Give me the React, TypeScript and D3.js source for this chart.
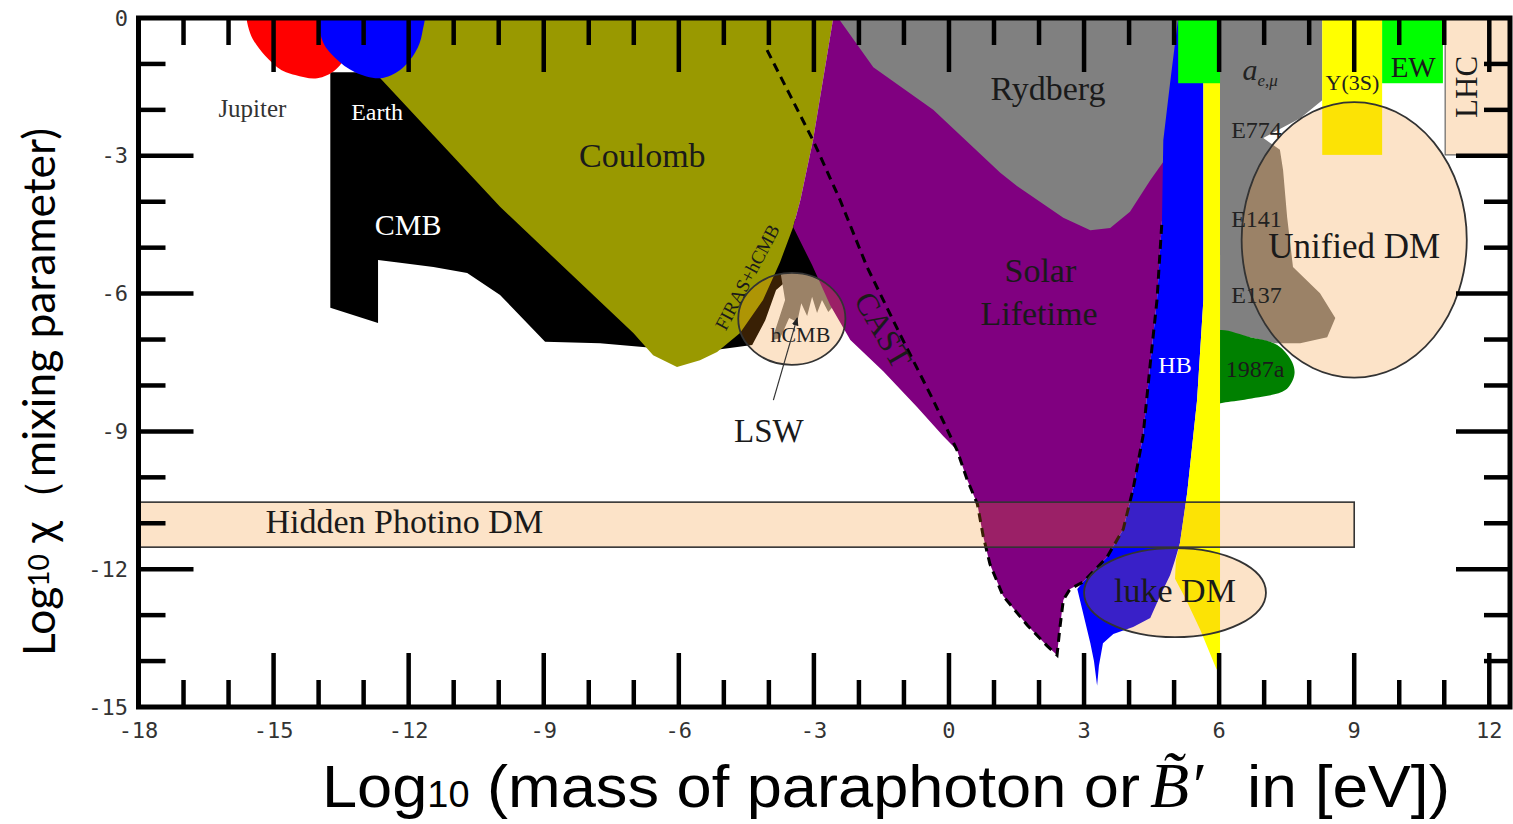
import React from "react";
import * as d3 from "d3";

type Pt = [number, number];

// log10 mass [eV] on x, log10 chi on y
const xDomain = [-18, 12.46];
const yDomain = [0, -15];
const xTickLabels = [-18, -15, -12, -9, -6, -3, 0, 3, 6, 9, 12];
const yTickLabels = [0, -3, -6, -9, -12, -15];

const jupiter: Pt[] = [
  [-15.52, 0.4], [-15.52, -0.33], [-14.92, -1.07], [-14.52, -1.24], [-14.03, -1.31],
  [-13.63, -1.13], [-13.41, -0.81], [-13.41, 0.4],
];
const earth: Pt[] = [
  [-13.92, 0.4], [-13.92, -0.48], [-13.63, -0.87], [-13.19, -1.18], [-12.63, -1.31],
  [-12.19, -1.13], [-11.85, -0.74], [-11.7, -0.33], [-11.7, 0.4],
];
const cmb: Pt[] = [
  [-13.74, -1.18], [-12.52, -1.18], [-8.63, -3.31], [-3.3, -4.4], [-2.53, -5.7],
  [-3.53, -5.66], [-3.84, -5.92], [-4.08, -6.58], [-4.37, -7.12], [-5.53, -7.27],
  [-7.75, -7.08], [-8.97, -7.05], [-9.97, -6.03], [-10.7, -5.55], [-11.45, -5.42],
  [-12.19, -5.33], [-12.68, -5.27], [-12.68, -6.64], [-13.74, -6.31],
];
const coulomb: Pt[] = [
  [-12.63, 0.4], [-2.57, 0.4], [-2.57, 0], [-3.02, -2.66], [-3.3, -3.96], [-3.46, -4.55],
  [-3.75, -5.31], [-4.13, -6.14], [-4.64, -6.86], [-5.15, -7.27], [-5.53, -7.45],
  [-6.04, -7.6], [-6.57, -7.34], [-7.01, -6.86], [-9.97, -4.11], [-12.63, -1.31],
];
const hcmb: Pt[] = [
  [-3.75, -5.49], [-2.42, -5.49], [-2.42, -6.1], [-2.68, -6.4], [-2.82, -6.14],
  [-2.93, -6.42], [-3.04, -6.07], [-3.15, -6.49], [-3.28, -6.21], [-3.37, -6.62],
  [-3.55, -6.53], [-3.75, -6.97], [-3.93, -7.01], [-3.64, -6.14],
];
const solar: Pt[] = [
  [-2.57, 0.4], [4.8, 0.4], [4.8, -4.42], [4.73, -4.42], [4.62, -6.14], [4.47, -7.53],
  [4.31, -9.1], [4.09, -10.25], [3.87, -11.13], [3.51, -11.74], [2.98, -12.28],
  [2.69, -12.43], [2.54, -12.67], [2.47, -13.22], [2.4, -13.87], [2.18, -13.67],
  [1.74, -13.22], [1.2, -12.58], [0.91, -11.89], [0.76, -11.28], [0.63, -10.58],
  [0.4, -10.04], [0.18, -9.41], [-0.13, -9.1], [-0.71, -8.47], [-1.46, -7.69],
  [-2.19, -7.01], [-2.64, -6.25], [-3.04, -5.38], [-3.46, -4.55], [-3.3, -3.96],
  [-3.02, -2.66], [-2.57, 0],
];
const cast: Pt[] = [
  [-4.04, -0.7], [-3.53, -1.68], [-3.02, -2.66], [-2.42, -3.96], [-1.82, -5.42],
  [-1.08, -6.9], [-0.35, -8.32], [0.18, -9.41], [0.4, -10.04], [0.63, -10.58],
  [0.76, -11.28], [0.91, -11.89], [1.2, -12.58], [1.74, -13.22], [2.18, -13.67],
  [2.4, -13.87], [2.47, -13.22], [2.54, -12.67], [2.69, -12.43], [2.98, -12.28],
  [3.51, -11.74], [3.87, -11.13], [4.09, -10.25], [4.31, -9.1], [4.47, -7.53],
  [4.62, -6.14], [4.73, -4.42],
];
const rydberg: Pt[] = [
  [-2.46, 0.4], [5.3, 0.4], [5.3, -1.42], [5.1, -2.66], [4.47, -3.53],
  [4.02, -4.22], [3.58, -4.57], [3.14, -4.62], [2.54, -4.35], [1.51, -3.66],
  [1.14, -3.37], [-0.35, -2.0], [-1.68, -1.07], [-2.46, 0],
];
const hb: Pt[] = [
  [5.09, 0.4], [5.65, 0.4], [5.65, -6.14], [5.51, -8.32], [5.29, -10.34], [5.13, -11.43],
  [5.02, -11.8], [4.91, -12.13], [4.69, -12.58], [4.47, -13.06], [4.09, -13.26],
  [3.65, -13.41], [3.42, -13.61], [3.33, -14.1], [3.29, -14.54], [3.22, -14.0],
  [3.14, -13.61], [2.85, -12.43], [2.98, -12.28], [3.51, -11.74], [3.87, -11.13],
  [4.09, -10.25], [4.31, -9.1], [4.47, -7.53], [4.62, -6.14], [4.73, -4.42],
  [4.76, -2.66], [4.91, -1.42], [5.09, 0],
];
const yellowBand: Pt[] = [
  [5.65, 0.4], [6.02, 0.4], [6.02, -14.3], [5.93, -14.15], [5.58, -13.32], [5.25, -12.63],
  [5.02, -12.21], [5.04, -11.8], [5.13, -11.43], [5.29, -10.34], [5.51, -8.32], [5.65, -6.14],
];
const aeMu: Pt[] = [
  [6.02, 0.4], [8.29, 0.4], [8.29, -1.79], [7.8, -2.18], [6.98, -2.61], [7.35, -2.87],
  [7.42, -3.31], [7.51, -4.33], [7.64, -5.42], [8.24, -5.99], [8.58, -6.53], [8.4, -6.95],
  [7.8, -7.08], [7.24, -7.08], [6.69, -6.95], [6.02, -6.84],
];
const sn1987a: Pt[] = [
  [5.9, -6.84], [6.69, -6.95], [7.29, -7.12], [7.62, -7.49], [7.67, -7.77], [7.47, -8.1],
  [6.8, -8.27], [6.2, -8.36], [5.9, -8.36],
];
// boxes: [x0, x1, y0, y1]
const greenTop = [5.09, 6.02, 0, -1.42];
const upsilon = [8.29, 9.62, 0, -2.98];
const ew = [9.62, 10.97, 0, -1.42];
const lhc = [11.02, 12.46, 0, -2.98];
const hiddenPhotino = [-18, 9.0, -10.54, -11.52];
// ellipses: [cx, cy, rx, ry]
const lukeDM = [5.02, -12.51, 2.02, 0.97];
const unifiedDM = [9.0, -4.83, 2.5, 3.0];
const hcmbCircle = [-3.49, -6.55, 1.19, 1.0];
const lswArrow: Pt[] = [[-3.9, -8.32], [-3.37, -6.53]];

const labels = [
  { t: "Jupiter", x: -15.47, y: -2.16, size: 25, fill: "#333" },
  { t: "Earth", x: -12.7, y: -2.22, size: 24, fill: "#fff" },
  { t: "CMB", x: -12.01, y: -4.72, size: 30, fill: "#fff" },
  { t: "Coulomb", x: -6.81, y: -3.24, size: 34, fill: "#1a1a1a" },
  { t: "Rydberg", x: 2.2, y: -1.79, size: 34, fill: "#1a1a1a" },
  { t: "Solar", x: 2.03, y: -5.75, size: 34, fill: "#1a1a1a" },
  { t: "Lifetime", x: 2.0, y: -6.68, size: 34, fill: "#1a1a1a" },
  { t: "HB", x: 5.02, y: -7.73, size: 24, fill: "#fff" },
  { t: "1987a", x: 6.8, y: -7.82, size: 24, fill: "#1a1a1a" },
  { t: "E774", x: 6.83, y: -2.61, size: 24, fill: "#222" },
  { t: "E141", x: 6.83, y: -4.55, size: 24, fill: "#222" },
  { t: "E137", x: 6.83, y: -6.21, size: 24, fill: "#222" },
  { t: "Y(3S)", x: 8.96, y: -1.57, size: 22, fill: "#222" },
  { t: "EW", x: 10.31, y: -1.28, size: 29, fill: "#1a1a1a" },
  { t: "Unified DM", x: 9.0, y: -5.23, size: 35, fill: "#1a1a1a" },
  { t: "luke DM", x: 5.02, y: -12.72, size: 34, fill: "#1a1a1a" },
  { t: "Hidden Photino DM", x: -15.18, y: -11.21, size: 34, fill: "#1a1a1a", anchor: "start" },
  { t: "LSW", x: -4.0, y: -9.23, size: 33, fill: "#1a1a1a" },
  { t: "hCMB", x: -3.3, y: -7.05, size: 22, fill: "#222" },
  { t: "CAST", x: -1.46, y: -6.79, size: 32, fill: "#1a1a1a", rot: 60 },
  { t: "FIRAS+hCMB", x: -4.48, y: -5.64, size: 19, fill: "#1a1a1a", rot: -62 },
  { t: "LHC", x: 11.49, y: -1.5, size: 31, fill: "#1a1a1a", rot: -90 },
];

const serif = "'Liberation Serif', 'Times New Roman', serif";
const mono = "'DejaVu Sans Mono', monospace";
const narrow = "'Liberation Sans Narrow', 'Liberation Sans', Arial, sans-serif";
// translucent orange that reads as peach on white
const tint = "#f28816";
const tintOpacity = 0.236;

export default function App() {
  const x = d3.scaleLinear().domain(xDomain).range([138.5, 1510]);
  const y = d3.scaleLinear().domain(yDomain).range([18, 707]);
  const poly = d3.line<Pt>().x(d => x(d[0])).y(d => y(d[1])).curve(d3.curveLinearClosed);
  const blob = d3.line<Pt>().x(d => x(d[0])).y(d => y(d[1])).curve(d3.curveCatmullRomClosed);
  const path = d3.line<Pt>().x(d => x(d[0])).y(d => y(d[1]));

  const box = (b: number[]) => ({
    x: x(b[0]), y: y(b[2]), width: x(b[1]) - x(b[0]), height: y(b[3]) - y(b[2]),
  });
  const ell = (e: number[]) => ({
    cx: x(e[0]), cy: y(e[1]), rx: x(e[0] + e[2]) - x(e[0]), ry: y(e[1] - e[3]) - y(e[1]),
  });

  const [x0, x1] = x.range();
  const [y0, y1] = y.range();
  const xMinor = d3.range(-17, 13);
  const yMinor = d3.range(-1, -15, -1);
  const isMajor = (v: number) => v % 3 === 0;
  const tickW = 4.5;

  return (
    <svg width={1513} height={824} style={{ position: "absolute", left: 0, top: 0, background: "#fff" }}>
      <defs>
        <clipPath id="plot">
          <rect x={x0} y={y0} width={x1 - x0} height={y1 - y0} />
        </clipPath>
        <clipPath id="hcmbClip">
          <ellipse {...ell(hcmbCircle)} />
        </clipPath>
        <marker id="arrow" viewBox="0 0 10 10" refX="9" refY="5" markerWidth="7" markerHeight="7" orient="auto">
          <path d="M0,1 L10,5 L0,9 z" fill="#222" />
        </marker>
      </defs>

      <g clipPath="url(#plot)">
        <path d={poly(cmb)!} fill="#000" />
        <path d={poly(coulomb)!} fill="#999900" />
        <path d={poly(hcmb)!} fill="#808080" clipPath="url(#hcmbClip)" />
        <path d={poly(solar)!} fill="#800080" />
        <path d={poly(rydberg)!} fill="#808080" />
        <path d={poly(hb)!} fill="#0000ff" />
        <path d={poly(aeMu)!} fill="#808080" />
        <path d={blob(sn1987a)!} fill="#008000" />
        <path d={poly(yellowBand)!} fill="#ffff00" />
        <rect {...box(greenTop)} fill="#00ff00" />
        <rect {...box(upsilon)} fill="#ffff00" />
        <rect {...box(ew)} fill="#00ff00" />
        <path d={blob(jupiter)!} fill="#ff0000" />
        <path d={blob(earth)!} fill="#0000ff" />
        <path d={path(cast)!} fill="none" stroke="#000" strokeWidth={3} strokeDasharray="9 6" />

        <g fill={tint} fillOpacity={tintOpacity} stroke="#333" strokeWidth={1.8}>
          <rect {...box(hiddenPhotino)} strokeWidth={1.6} />
          <ellipse {...ell(lukeDM)} />
          <ellipse {...ell(unifiedDM)} />
          <ellipse {...ell(hcmbCircle)} />
          <rect {...box(lhc)} stroke="#666" strokeWidth={1.2} />
        </g>
      </g>

      {/* frame and ticks */}
      <g stroke="#000" strokeWidth={tickW}>
        {xMinor.map(v => (
          <g key={"xt" + v}>
            <line x1={x(v)} x2={x(v)} y1={y1} y2={y1 - (isMajor(v) ? 54 : 27)} />
            <line x1={x(v)} x2={x(v)} y1={y0} y2={y0 + (isMajor(v) ? 54 : 27)} />
          </g>
        ))}
        {yMinor.map(v => (
          <g key={"yt" + v}>
            <line x1={x0} x2={x0 + (isMajor(v) ? 55 : 27)} y1={y(v)} y2={y(v)} />
            <line x1={x1} x2={x1 - (isMajor(v) ? 54 : 26)} y1={y(v)} y2={y(v)} />
          </g>
        ))}
        <rect x={x0} y={y0} width={x1 - x0} height={y1 - y0} fill="none" strokeWidth={5} />
      </g>

      {/* tick labels */}
      <g fontFamily={mono} fontSize={22} fill="#333">
        {xTickLabels.map(v => (
          <text key={"xl" + v} x={x(v)} y={738} textAnchor="middle">
            {v < 0 ? "-" + Math.abs(v) : String(v)}
          </text>
        ))}
        {yTickLabels.map(v => (
          <text key={"yl" + v} x={128} y={y(v)} textAnchor="end" dominantBaseline="central">
            {v < 0 ? "-" + Math.abs(v) : String(v)}
          </text>
        ))}
      </g>

      {/* region labels */}
      <g fontFamily={serif}>
        {labels.map(l => {
          const px = x(l.x);
          const py = y(l.y);
          return (
            <text
              key={l.t}
              x={px}
              y={py}
              fontSize={l.size}
              fill={l.fill}
              textAnchor={l.anchor ?? "middle"}
              dominantBaseline={l.rot ? "central" : undefined}
              transform={l.rot ? `rotate(${l.rot} ${px} ${py})` : undefined}
            >
              {l.t}
            </text>
          );
        })}
        <text x={x(6.52)} y={y(-1.35)} fontSize={30} fontStyle="italic" fill="#222">
          a<tspan fontSize={17} dy={6}>e,μ</tspan>
        </text>
      </g>

      <path
        d={path(lswArrow)!}
        stroke="#333"
        strokeWidth={1.2}
        fill="none"
        markerEnd="url(#arrow)"
      />

      {/* axis titles */}
      <text
        x={38}
        y={392}
        transform="rotate(-90 38 392)"
        textAnchor="middle"
        dominantBaseline="central"
        fontFamily="Lato, 'Open Sans', sans-serif"
        fontSize={44}
        fill="#000"
        textLength={528}
        lengthAdjust="spacingAndGlyphs"
      >
        Log<tspan fontSize={28}>10</tspan> χ（mixing parameter)
      </text>

      <text
        x={322}
        y={807}
        fontFamily={narrow}
        fontSize={60}
        fill="#000"
        textLength={818}
        lengthAdjust="spacingAndGlyphs"
      >
        Log<tspan fontSize={36}>10</tspan> (mass of paraphoton or
      </text>
      <text x={1150} y={807} fontFamily={serif} fontStyle="italic" fontSize={64} fill="#000">
        B̃′
      </text>
      <text
        x={1247}
        y={807}
        fontFamily={narrow}
        fontSize={60}
        fill="#000"
        textLength={203}
        lengthAdjust="spacingAndGlyphs"
      >
        in [eV])
      </text>
    </svg>
  );
}
